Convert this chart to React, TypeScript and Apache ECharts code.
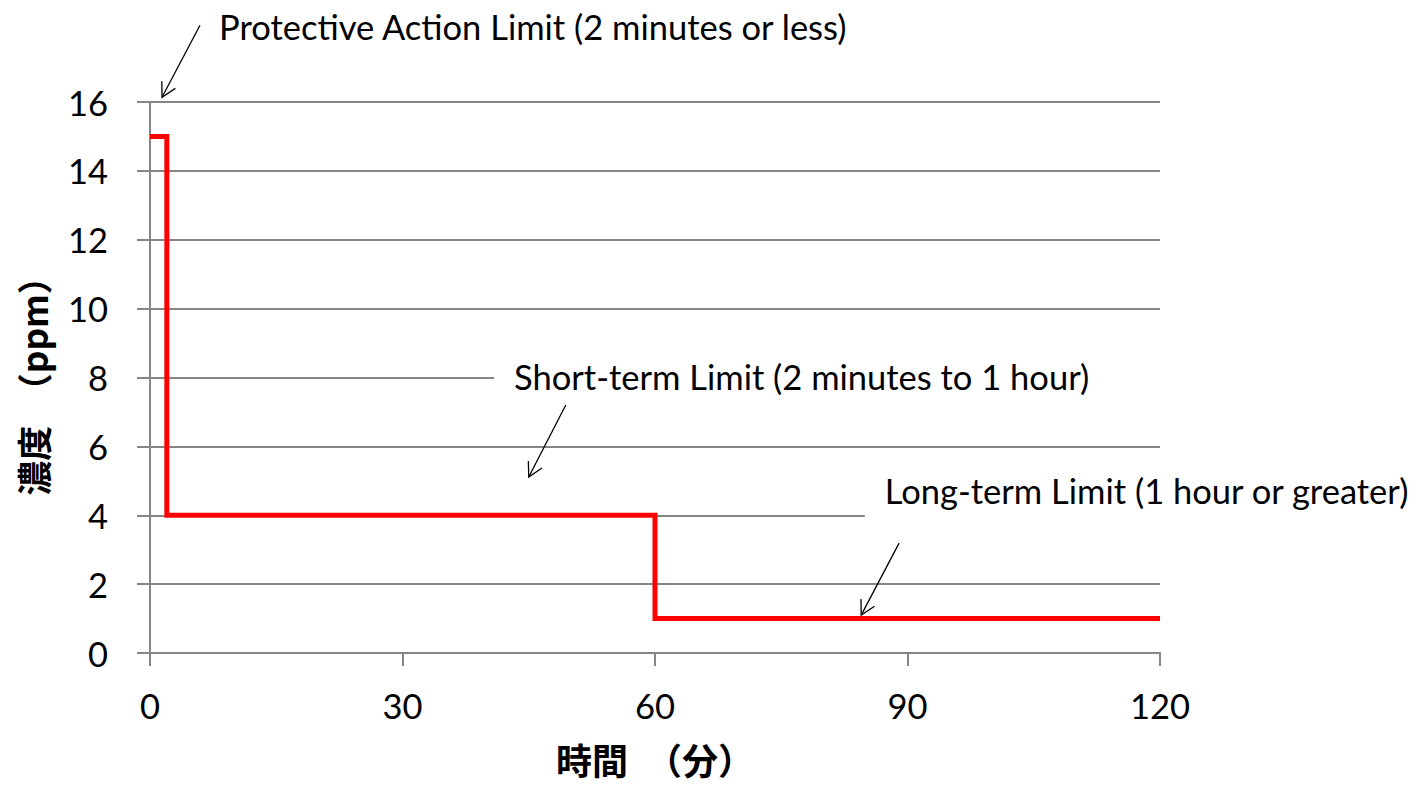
import React, { useEffect, useRef } from "react";
import * as echarts from "echarts";

// Step-limit breakpoints (minutes, ppm)
const limitTimes = [0, 2, 60, 120];
const limitValues = [15, 4, 1, 1];

const xTickValues = [0, 30, 60, 90, 120];
const yTickValues = [0, 2, 4, 6, 8, 10, 12, 14, 16];

const xAxisTitle = "時間　（分）";
const yAxisTitle = "濃度　（ppm）";

const annotationTexts = [
  "Protective Action Limit (2 minutes or less)",
  "Short-term Limit (2 minutes to 1 hour)",
  "Long-term Limit (1 hour or greater)",
];
// label anchors (left, middle) in data coordinates [minutes, ppm]
const annotationAnchors = [
  [8.2, 18.18],
  [43.25, 8.04],
  [87.3, 4.73],
];
const annotationMasked = [false, true, true];
const arrowFrom = [
  [5.94, 18.23],
  [49.4, 7.2],
  [89.0, 3.19],
];
const arrowTo = [
  [1.43, 16.14],
  [45.0, 5.11],
  [84.5, 1.1],
];

const FONT = 'Lato, "Noto Sans CJK JP", sans-serif';
const CJK = '"Noto Sans CJK JP", Lato, sans-serif';

export default function App() {
  const ref = useRef<HTMLDivElement>(null);
  useEffect(() => {
    if (!ref.current) return;
    const chart = echarts.init(ref.current, undefined, { renderer: "svg" });
    const data = limitTimes.map((t, i) => [t, limitValues[i]]);
    chart.setOption({
      animation: false,
      backgroundColor: "#ffffff",
      grid: { left: 150, right: 256, top: 102, bottom: 134, containLabel: false },
      xAxis: {
        type: "value",
        min: xTickValues[0],
        max: xTickValues[xTickValues.length - 1],
        interval: 30,
        name: xAxisTitle,
        nameLocation: "middle",
        nameGap: 88,
        nameTextStyle: {
          fontFamily: CJK,
          fontSize: 36,
          lineHeight: 36,
          fontWeight: "bold",
          color: "#000",
        },
        axisLine: { show: true, lineStyle: { color: "#868686", width: 2 } },
        axisTick: { show: true, length: 13, inside: false, lineStyle: { color: "#868686", width: 2 } },
        axisLabel: { fontFamily: FONT, fontSize: 34.5, color: "#000", margin: 35 },
        splitLine: { show: false },
      },
      yAxis: {
        type: "value",
        min: yTickValues[0],
        max: yTickValues[yTickValues.length - 1],
        interval: 2,
        name: yAxisTitle,
        nameLocation: "middle",
        nameGap: 100,
        nameTextStyle: {
          fontFamily: CJK,
          fontSize: 35,
          fontWeight: "bold",
          color: "#000",
        },
        axisLine: { show: true, lineStyle: { color: "#868686", width: 2 } },
        axisTick: { show: true, length: 13, inside: false, lineStyle: { color: "#868686", width: 2 } },
        axisLabel: { fontFamily: FONT, fontSize: 34.5, color: "#000", margin: 42 },
        splitLine: { show: true, lineStyle: { color: "#868686", width: 2 } },
      },
      series: [
        {
          type: "line",
          step: "end",
          data,
          symbol: "none",
          lineStyle: { color: "#ff0000", width: 5, join: "miter" },
          z: 3,
        },
      ],
    });

    const graphics: any[] = [];
    const gridRight = 1416 - 256;
    annotationTexts.forEach((txt, i) => {
      const p = chart.convertToPixel({ gridIndex: 0 }, annotationAnchors[i]) as number[];
      if (annotationMasked[i]) {
        graphics.push({
          type: "rect",
          z: 100,
          shape: { x: p[0] - 20, y: p[1] - 27, width: gridRight + 6 - (p[0] - 20), height: 54 },
          style: { fill: "#ffffff" },
        });
      }
      graphics.push({
        type: "text",
        z: 101,
        x: p[0],
        y: p[1],
        style: {
          text: txt,
          fontFamily: FONT,
          fontSize: 34.5,
          fill: "#000",
          textAlign: "left",
          textVerticalAlign: "middle",
        },
      });
      const a = chart.convertToPixel({ gridIndex: 0 }, arrowFrom[i]) as number[];
      const b = chart.convertToPixel({ gridIndex: 0 }, arrowTo[i]) as number[];
      const ang = Math.atan2(b[1] - a[1], b[0] - a[0]);
      const L = 16;
      const spread = 0.5;
      const h1 = [b[0] - L * Math.cos(ang - spread), b[1] - L * Math.sin(ang - spread)];
      const h2 = [b[0] - L * Math.cos(ang + spread), b[1] - L * Math.sin(ang + spread)];
      graphics.push({
        type: "line",
        z: 102,
        shape: { x1: a[0], y1: a[1], x2: b[0], y2: b[1] },
        style: { stroke: "#000", lineWidth: 1.3 },
      });
      graphics.push({
        type: "polyline",
        z: 102,
        shape: { points: [h1, b, h2] },
        style: { stroke: "#000", lineWidth: 1.3, fill: "none" },
      });
    });
    chart.setOption({ graphic: graphics });

    return () => chart.dispose();
  }, []);
  return (
    <div
      ref={ref}
      style={{ position: "fixed", left: 0, top: 0, width: 1416, height: 787 }}
    />
  );
}
